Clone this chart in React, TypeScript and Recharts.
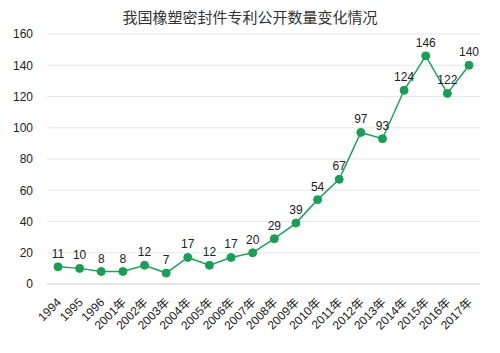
import React from 'react';
import { LineChart, Line, XAxis, YAxis, CartesianGrid, LabelList } from 'recharts';

const years = ['1994', '1995', '1996', '2001年', '2002年', '2003年', '2004年', '2005年', '2006年', '2007年',
  '2008年', '2009年', '2010年', '2011年', '2012年', '2013年', '2014年', '2015年', '2016年', '2017年'];
const patents = [11, 10, 8, 8, 12, 7, 17, 12, 17, 20, 29, 39, 54, 67, 97, 93, 124, 146, 122, 140];
const yTicks = [0, 20, 40, 60, 80, 100, 120, 140, 160];

const data = years.map((year, i) => ({ year, value: patents[i] }));

const FONT = 'Arial, "Liberation Sans", "Noto Sans CJK SC", sans-serif';

const XTick = (props: any) => {
  const { x, y, payload } = props;
  return (
    <text x={x + 4} y={y + 11} transform={`rotate(-45, ${x + 4}, ${y + 11})`} textAnchor="end"
      fontSize={12} fill="#222" fontFamily={FONT}>
      {payload.value}
    </text>
  );
};

const App: React.FC = () => {
  return (
    <div style={{ position: 'absolute', left: 0, top: 0, width: 500, height: 353, background: '#fff' }}>
      <div style={{
        position: 'absolute', top: 6, width: 500, textAlign: 'center', fontSize: 15,
        fontFamily: '"Noto Sans CJK SC", sans-serif', color: '#333'
      }}>
        我国橡塑密封件专利公开数量变化情况
      </div>
      <LineChart width={500} height={353} data={data} margin={{ top: 34, right: 20, left: 0, bottom: 9 }}>
        <CartesianGrid vertical={false} stroke="#e4e8e6" />
        <XAxis dataKey="year" interval={0} height={60} axisLine={{ stroke: '#d9d9d9' }} tickLine={false}
          padding={{ left: 11, right: 11 }} tick={<XTick />} />
        <YAxis domain={[0, 160]} ticks={yTicks} width={47} axisLine={false} tickLine={false} tickSize={0}
          tickMargin={14} tick={{ fontSize: 12, fill: '#222', fontFamily: FONT }} />
        <Line dataKey="value" stroke="#1fa35b" strokeWidth={1.5} isAnimationActive={false}
          dot={{ r: 4, fill: '#1a9e55', stroke: '#1a9e55', strokeWidth: 1 }}>
          <LabelList dataKey="value" position="top" offset={9} fontSize={12} fill="#222" fontFamily={FONT} />
        </Line>
      </LineChart>
    </div>
  );
};

export default App;
